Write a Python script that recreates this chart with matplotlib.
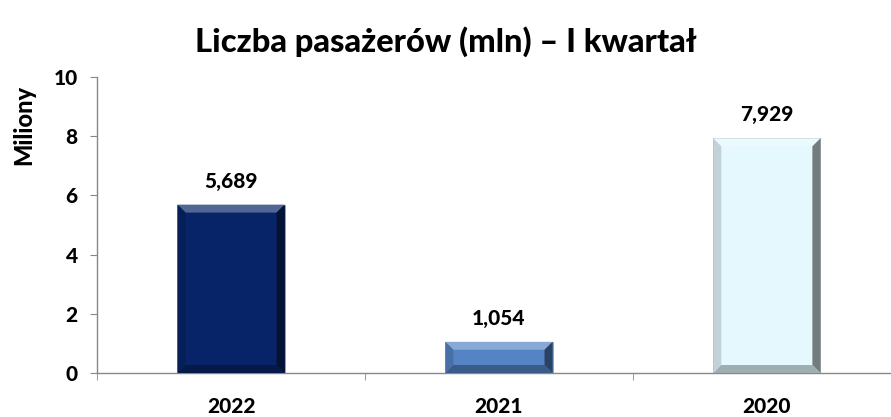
import matplotlib
matplotlib.use("Agg")
import matplotlib.pyplot as plt
from matplotlib.patches import Polygon
import matplotlib.colors as mcolors

years = ["2022", "2021", "2020"]
passengers = [5.689, 1.054, 7.929]
value_labels = ["5,689", "1,054", "7,929"]
bar_colors = ["#082468", "#5584c4", "#e4f8fd"]

W = "black"
plt.rcParams["font.family"] = ["Lato", "DejaVu Sans"]
plt.rcParams["font.weight"] = W

fig = plt.figure(figsize=(8.91, 4.17), dpi=100)
ax = fig.add_axes([0.109, 0.1055, 0.902, 0.7098])

x = range(len(years))
bars = ax.bar(x, passengers, width=0.40, color=bar_colors,
              edgecolor="#9aa0a6", linewidth=0.6, zorder=2)

# bevel effect: lighter top, shaded sides, darker bottom
bx = 0.03    # bevel width in x data units
by = 0.27    # bevel height in y data units
for b, c in zip(bars, bar_colors):
    x0, w, h = b.get_x(), b.get_width(), b.get_height()
    x1 = x0 + w
    byy = min(by, h / 3)
    rgb = mcolors.to_rgb(c)
    light = tuple(min(1, v + (1 - v) * 0.3) for v in rgb)
    left = tuple(v * 0.85 for v in rgb)
    dark = tuple(v * 0.5 for v in rgb)
    bottom = tuple(v * 0.7 for v in rgb)
    faces = [
        ([(x0, h), (x1, h), (x1 - bx, h - byy), (x0 + bx, h - byy)], light),
        ([(x0, 0), (x0, h), (x0 + bx, h - byy), (x0 + bx, byy)], left),
        ([(x1, 0), (x1, h), (x1 - bx, h - byy), (x1 - bx, byy)], dark),
        ([(x0, 0), (x1, 0), (x1 - bx, byy), (x0 + bx, byy)], bottom),
    ]
    for pts, fc in faces:
        ax.add_patch(Polygon(pts, closed=True, facecolor=fc, edgecolor="none", zorder=3))

for b, lab in zip(bars, value_labels):
    ax.annotate(lab, (b.get_x() + b.get_width() / 2, b.get_height()),
                xytext=(0, 17), textcoords="offset points",
                ha="center", va="center", fontsize=15, fontweight=W)

ax.set_xlim(-0.5, 2.5)
ax.set_ylim(0, 10)
ax.set_yticks([0, 2, 4, 6, 8, 10])
ax.set_xticks(list(x))
ax.set_xticklabels(years)
ax.set_xticks([-0.5, 0.5, 1.5, 2.5], minor=True)
ax.tick_params(axis="x", which="major", length=0, pad=17, labelsize=15)
ax.tick_params(axis="x", which="minor", length=5, color="#888888")
ax.tick_params(axis="y", length=5, color="#888888", labelsize=15, pad=9)
for lab in ax.get_xticklabels() + ax.get_yticklabels():
    lab.set_fontweight(W)

for s in ("top", "right"):
    ax.spines[s].set_visible(False)
for s in ("left", "bottom"):
    ax.spines[s].set_color("#888888")
    ax.spines[s].set_linewidth(1.0)

fig.text(0.5, 0.9, "Liczba pasażerów (mln) – I kwartał", ha="center", va="center",
         fontsize=23.5, fontweight=W)
fig.text(0.027, 0.70, "Miliony", rotation=90, ha="center", va="center",
         fontsize=17, fontweight=W)

fig.savefig("out.png", dpi=100)
